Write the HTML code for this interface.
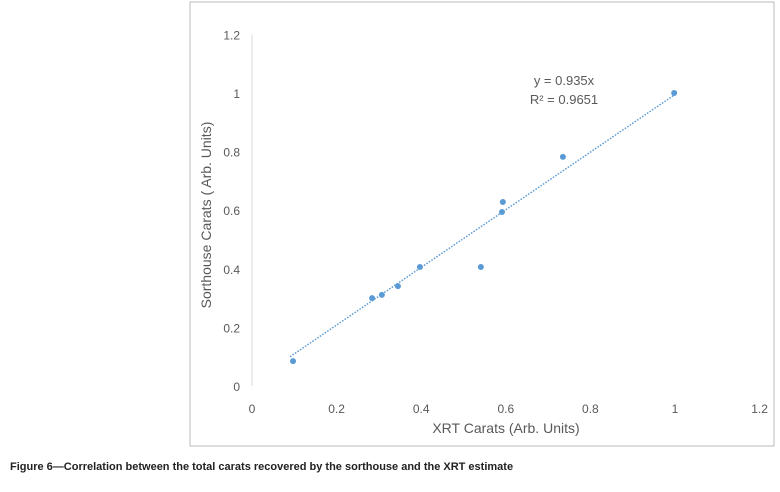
<!DOCTYPE html>
<html><head><meta charset="utf-8"><style>
body{margin:0;background:#fff;width:780px;height:487px;overflow:hidden;font-family:"Liberation Sans",sans-serif}
</style></head><body>
<svg width="780" height="487">
<rect x="190" y="2" width="584" height="444" fill="#fff" stroke="#bbb"/>
<g id="g"></g>
<text x="564" y="85" font-size="13" fill="#595959" text-anchor="middle">y = 0.935x</text>
<text x="564" y="104" font-size="13" fill="#595959" text-anchor="middle">R² = 0.9651</text>
<text x="506" y="433" font-size="14" fill="#595959" text-anchor="middle">XRT Carats (Arb. Units)</text>
<text transform="translate(211,215) rotate(-90)" font-size="14" fill="#595959" text-anchor="middle">Sorthouse Carats ( Arb. Units)</text>
<text x="10" y="470" font-size="11" font-weight="bold" fill="#222">Figure 6—Correlation between the total carats recovered by the sorthouse and the XRT estimate</text>
</svg>
<script>
const xTicks=[0,0.2,0.4,0.6,0.8,1,1.2];
const yTicks=[0,0.2,0.4,0.6,0.8,1,1.2];
const xVals=[0.097,0.284,0.307,0.345,0.397,0.541,0.591,0.593,0.735,0.998];
const yVals=[0.085,0.300,0.311,0.341,0.406,0.406,0.594,0.628,0.782,1.0];
const trendX=[0.09,1.0];
const trendY=[0.10,0.995];
const sx=v=>252+v*423, sy=v=>386-v*293;
const g=document.getElementById('g'),NS='http://www.w3.org/2000/svg';
function mk(t,a){const e=document.createElementNS(NS,t);for(const k in a)e.setAttribute(k,a[k]);g.appendChild(e);return e;}
let ax=mk('line',{x1:sx(0),x2:sx(0),y1:sy(0),y2:sy(1.2),stroke:'#d9d9d9'});


xTicks.forEach(v=>{const t=mk('text',{x:sx(v),y:413,'font-size':12,fill:'#595959','text-anchor':'middle'});t.textContent=v;

});
yTicks.forEach(v=>{const t=mk('text',{x:240,y:sy(v)+5,'font-size':12,fill:'#595959','text-anchor':'end'});t.textContent=v;

});
const tl=mk('line',{x1:sx(trendX[0]),y1:sy(trendY[0]),x2:sx(trendX[1]),y2:sy(trendY[1]),stroke:'#5b9bd5','stroke-width':1.5,'stroke-dasharray':'1.5,1.5'});


xVals.forEach((v,i)=>{const c=mk('circle',{cx:sx(v),cy:sy(yVals[i]),r:3,fill:'#5b9bd5'});

});
</script>
</body></html>
